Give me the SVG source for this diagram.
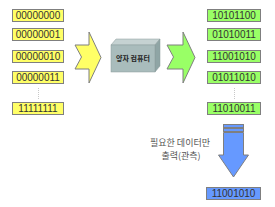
<svg xmlns="http://www.w3.org/2000/svg" width="275" height="207" viewBox="0 0 275 207">
<style>
.b{stroke:#7f7f7f;stroke-width:1}
.y{fill:#ffff66}
.g{fill:#99ff66}
.bl{fill:#6699ff}
.t{font-family:"Liberation Sans",Arial,sans-serif;font-size:10px;fill:#333;text-anchor:middle}
.d{stroke:#c8c8c8;stroke-width:1;stroke-dasharray:1,1}
.lb{font-family:"Noto Sans CJK KR","Noto Sans",sans-serif;font-size:9px;fill:#555;text-anchor:middle}
</style>
<rect width="275" height="207" fill="#fff"/>
<g id="left">
<g id="l1"><rect class="b y" x="12.5" y="9.5" width="51" height="12"/><text class="t" x="38" y="19">00000000</text></g>
<g id="l2"><rect class="b y" x="12.5" y="28.5" width="51" height="12"/><text class="t" x="38" y="38">00000001</text></g>
<g id="l3"><rect class="b y" x="12.5" y="50.5" width="51" height="12"/><text class="t" x="38" y="60">00000010</text></g>
<g id="l4"><rect class="b y" x="12.5" y="71.5" width="51" height="12"/><text class="t" x="38" y="81">00000011</text></g>
<line class="d" x1="38.5" y1="88" x2="38.5" y2="99"/>
<g id="l5"><rect class="b y" x="12.5" y="102.5" width="51" height="12"/><text class="t" x="38" y="112">11111111</text></g>
</g>
<g id="right">
<g id="r1"><rect class="b g" x="207.5" y="9.5" width="53" height="12"/><text class="t" x="234" y="19">10101100</text></g>
<g id="r2"><rect class="b g" x="207.5" y="28.5" width="53" height="12"/><text class="t" x="234" y="38">01010011</text></g>
<g id="r3"><rect class="b g" x="207.5" y="50.5" width="53" height="12"/><text class="t" x="234" y="60">11001010</text></g>
<g id="r4"><rect class="b g" x="207.5" y="71.5" width="53" height="12"/><text class="t" x="234" y="81">01011010</text></g>
<line class="d" x1="234.5" y1="88" x2="234.5" y2="99"/>
<g id="r5"><rect class="b g" x="207.5" y="102.5" width="53" height="12"/><text class="t" x="234" y="112">11010011</text></g>
</g>
<g id="connectors">
<polygon class="b y" points="75,45 89,45 89,32 101,57.5 89,83 89,69 75,69 81.5,57"/>
<polygon class="b g" points="167,45 183,45 183,32 195,57.5 183,83 183,69 167,69 173.5,57"/>
<rect class="b bl" x="223.5" y="124.5" width="20" height="3"/>
<rect class="b bl" x="223.5" y="128.5" width="20" height="3"/>
<polygon class="b bl" points="223.5,132.5 243.5,132.5 243.5,155 248.5,155 233.5,177 218.5,155 223.5,155"/>
</g>
<g id="qc">
<polygon points="111,45 116,39 160,39 155,45" fill="#c5d2d2" stroke="#8a9a9a" stroke-width="0.5"/>
<polygon points="155,45 160,39 160,66 155,72" fill="#8fa5a5" stroke="#8a9a9a" stroke-width="0.5"/>
<rect x="111" y="45" width="44" height="27" fill="#a9bcbc" stroke="#8a9a9a" stroke-width="0.5"/>
<text x="133" y="61" font-family="Noto Sans CJK KR,sans-serif" font-size="7" font-weight="bold" fill="#222" text-anchor="middle">양자 컴퓨터</text>
</g>
<g id="label">
<text class="lb" x="180" y="146">필요한 데이터만</text>
<text class="lb" x="181" y="159">출력(관측)</text>
</g>
<g id="out"><rect class="b bl" x="206.5" y="187.5" width="54" height="12"/><text class="t" x="233.5" y="197" fill="#111">11001010</text></g>
</svg>
